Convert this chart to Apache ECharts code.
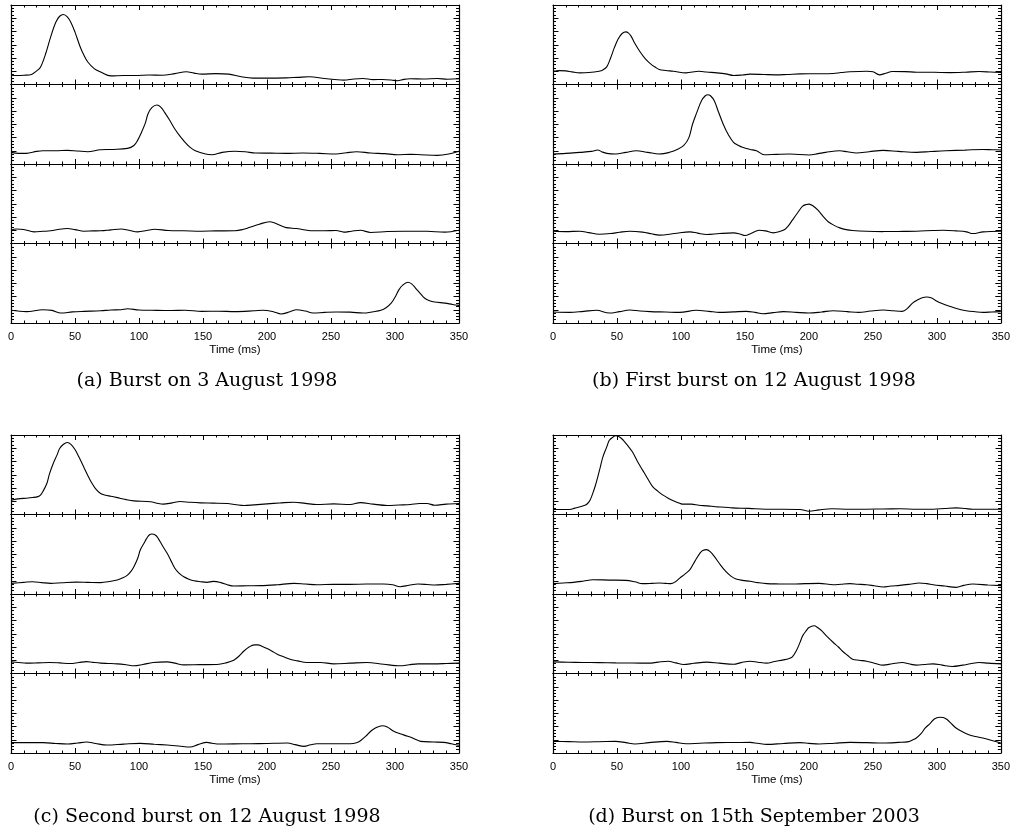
<!DOCTYPE html>
<html>
<head>
<meta charset="utf-8">
<script src="https://cdn.jsdelivr.net/npm/echarts@6/dist/echarts.min.js"></script>
<style>
html,body{margin:0;padding:0;background:#fff;}
#chart{width:1013px;height:831px;}
</style>
</head>
<body>
<div id="chart"></div>
<script>
// ---------- data (time in ms, intensity in arbitrary units, 0..60) ----------
const captions = [
  '(a) Burst on 3 August 1998',
  '(b) First burst on 12 August 1998',
  '(c) Second burst on 12 August 1998',
  '(d) Burst on 15th September 2003'
];
const xTickLabels = [0, 50, 100, 150, 200, 250, 300, 350];
const xName = 'Time (ms)';

const a1 = [[0,7.0],[5,6.8],[10,7.0],[16,7.6],[20,10.3],[23,13],[27,23],[31,36],[35,47],[38,51.5],[41,52.8],[44,51],[47,46.5],[50,39.5],[54,28.5],[57,22],[60,17],[65,12],[70,9.5],[78,6.5],[88,6.8],[97,6.8],[108,7.2],[118,7],[128,8.2],[137,9.6],[143,8.6],[149,7.8],[160,8.2],[170,7.8],[180,5.8],[189,4.8],[200,4.8],[215,5],[224,5.4],[233,5.8],[245,4.5],[253,3.8],[260,3.3],[268,4.2],[275,4.5],[283,3.7],[290,3.8],[297,3.4],[302,2.8],[307,3.9],[312,4.3],[322,4.2],[333,4.5],[341,4.0],[350,4.3]];
const a2 = [[0,8.8],[6,8],[12,8],[20,9.5],[25,10],[35,10],[44,10.3],[52,9.8],[60,9.3],[70,10.8],[80,11],[91,11.8],[96,14],[99,18],[102,24],[105,31],[107,37.7],[110,42.5],[114,44.5],[117,43],[120,39],[124,33],[128,26.4],[132,21],[136,16.4],[140,12.5],[144,10],[152,7.5],[157,7],[165,8.8],[175,9.6],[183,9.2],[191,8.3],[203,8.2],[215,8],[228,8.3],[241,8],[254,7.5],[262,8.5],[270,9.3],[281,8.3],[292,7.8],[302,7],[312,7.3],[320,7],[333,6.5],[342,7.5],[350,9.6]];
const a3 = [[0,10],[4,11],[10,10.6],[18,8.8],[25,9.2],[31,9.6],[38,10.8],[44,11.3],[50,10.5],[57,9.3],[64,9.5],[70,9.6],[78,10.3],[86,11],[92,10],[99,8.8],[106,9.8],[112,10.8],[123,9.8],[135,9.6],[149,9.3],[160,9.5],[175,9.6],[181,10.5],[186,12],[194,14.6],[202,16.4],[206,15.5],[210,13.8],[215,12],[223,11.3],[230,10.2],[236,9.6],[245,9.6],[254,9.8],[260,8.6],[266,9.3],[273,10],[281,8.3],[294,9],[307,9.3],[325,9.2],[339,8.6],[350,10]];
const a4 = [[0,9.6],[12,8.6],[25,10],[32,9.5],[39,7.5],[48,8.4],[57,8.8],[70,9.2],[78,9.8],[86,10],[91,10.8],[100,9.8],[110,9.6],[125,9.4],[136,9.6],[149,8.8],[162,8.9],[175,8.6],[190,9.2],[197,9.6],[205,8.5],[211,6.8],[218,8.5],[223,10],[230,9],[236,7.5],[245,8],[254,8.3],[265,8.2],[275,7.5],[283,8.5],[289,9.6],[293,11.5],[297,15],[300,19.5],[303,25],[306,28.6],[310,30.7],[313,29.5],[316,26.4],[320,22],[323,18.9],[327,16.8],[331,15.8],[339,15],[345,14],[350,13.3]];

const b1 = [[0,10],[5,10.5],[10,10.3],[15,9.5],[21,8.8],[28,9],[36,10],[39,11],[42,13.3],[45,20],[48,28],[51,34.5],[54,38.5],[57,39.7],[59,38.8],[61,36.5],[64,31],[68,24.7],[72,19.5],[76,15.8],[80,13],[83,11.3],[88,10.6],[94,10],[104,8.8],[114,10],[120,9.4],[128,8.8],[135,8],[141,6.8],[148,7.2],[154,7.8],[165,7.5],[174,7.3],[183,7.6],[193,8],[205,8.1],[219,8.3],[225,9],[232,9.6],[245,10],[250,9.6],[255,7.3],[260,8.5],[265,9.8],[275,9.7],[284,9.3],[298,9.2],[310,9],[322,9.3],[333,9.8],[342,9.4],[350,9]];
const b2 = [[0,7.5],[10,8],[21,8.8],[30,9.5],[35,10.6],[38,9.3],[42,8],[49,7.5],[57,8.8],[65,10],[74,8.8],[83,7.5],[91,8.8],[97,11],[102,13.8],[106,19.5],[109,30],[112,38],[116,47.8],[119,51.5],[121,52.3],[123,51.5],[126,47.8],[129,40],[133,30],[137,22],[141,16.4],[145,14],[148,12.6],[154,11],[159,10],[165,7],[175,7.3],[185,7.5],[200,6.8],[207,7.8],[213,8.8],[224,10],[230,9.2],[237,8.3],[247,9.3],[258,10.3],[270,9.5],[284,8.8],[295,9.4],[307,10],[322,10.5],[336,11],[343,10.8],[350,10.6]];
const b3 = [[0,9.3],[10,9],[21,9.3],[28,8.2],[36,7],[45,7.5],[52,8.5],[60,9.3],[70,8.6],[77,7.3],[83,6.3],[95,7.5],[107,8.8],[113,7.8],[120,6.8],[130,7.5],[141,8],[146,7.2],[150,6],[155,7.8],[161,10],[166,9.5],[172,8],[177,9],[181,10.6],[184,13.5],[187,17.6],[191,23],[195,28.2],[198,29.5],[200,29.7],[203,28.5],[207,25.2],[211,20.5],[215,16.4],[220,13.5],[224,11.8],[229,10.5],[234,9.8],[245,9.2],[258,9],[270,9.1],[284,9.3],[297,9.8],[305,10],[315,9.5],[323,8.8],[328,7.5],[336,8.8],[350,9.3]];
const b4 = [[0,8.3],[13,8],[24,8.8],[34,9.6],[44,7.5],[52,8.6],[60,9.8],[68,9],[76,8.6],[88,8.3],[99,8],[112,9.6],[122,8.8],[130,8],[141,8.4],[151,8.8],[158,8],[164,7],[172,7.8],[180,8.6],[190,8],[200,7.5],[210,8.3],[219,9.3],[230,8.6],[239,8],[248,9],[258,9.8],[266,9.2],[273,8.8],[277,11],[281,15],[285,17.5],[288,18.9],[292,19.6],[296,18.8],[299,17],[304,14.7],[310,12.6],[316,10.8],[323,9.3],[330,8.5],[336,8],[343,8.3],[350,8.6]];

const c1 = [[0,10.8],[7,12],[12,12.3],[17,12.8],[21,13.5],[23,14.6],[25,17.5],[28,23.4],[30,30.5],[33,38.5],[36,45],[38,49.8],[41,53],[44,54.3],[47,52.8],[50,49],[53,43.5],[57,35.5],[60,29.5],[63,24],[66,19.5],[70,15.8],[74,14.5],[78,13.8],[85,12.3],[90,11.2],[96,10.3],[109,9.6],[114,8.5],[119,7.8],[126,8.8],[132,9.8],[140,9.2],[148,8.8],[158,8.6],[169,8.3],[176,7.4],[182,6.8],[190,7.3],[200,8],[210,8.7],[221,9.3],[230,8.4],[239,7.5],[252,8],[265,7.5],[273,9],[283,7.8],[294,6.8],[303,7.2],[312,7.5],[319,8.3],[325,8.3],[331,7],[340,7.8],[350,8.3]];
const c2 = [[0,8],[10,8.8],[17,9.3],[24,8.6],[31,8],[40,8.5],[51,9],[60,8.8],[70,8.6],[77,9.4],[83,10.6],[87,12],[91,14.3],[94,17.5],[96,20.6],[99,27],[101,33.2],[104,38.5],[106,42],[108,44.5],[110,45.3],[113,44.3],[115,42],[118,37],[122,30.7],[125,25],[128,19.4],[131,16],[135,13],[139,11.2],[143,10],[148,9.3],[153,8.8],[158,9.5],[164,8.6],[169,7],[174,6],[185,6.2],[195,6.3],[208,7],[221,8],[230,7.5],[239,7],[252,7.3],[265,7.3],[278,7.5],[291,7.5],[298,7],[304,5.5],[311,6.6],[318,7.5],[325,7.2],[331,6.8],[340,7.3],[350,8]];
const c3 = [[0,8.8],[6,8.3],[12,7.8],[21,8],[30,8.3],[38,8],[46,7.5],[53,8.3],[59,9],[64,8.4],[70,7.8],[76,7.6],[83,7.3],[90,6.6],[96,5.8],[103,6.8],[111,8.3],[122,8.8],[128,7.8],[135,6.5],[148,6.7],[161,6.8],[168,8],[174,10],[178,13],[182,17],[186,20],[190,21.6],[193,21.6],[196,20.6],[200,18.9],[204,16.8],[208,14.6],[213,12.6],[218,10.8],[224,9.5],[231,8.3],[242,8.3],[252,7.3],[265,7.8],[278,8.3],[291,7],[304,5.8],[311,6.6],[318,7.3],[330,7.3],[340,7.5],[350,7.8]];
const c4 = [[0,7.8],[12,7.8],[25,7.8],[35,7.2],[44,6.8],[52,7.5],[59,8.3],[66,7.2],[75,6],[88,6.7],[101,7.3],[112,6.6],[122,6],[131,5.3],[140,4.5],[146,6.3],[153,8],[157,7.3],[161,6.8],[174,6.9],[187,7],[200,7.2],[216,7.5],[222,6.3],[229,5],[234,6.2],[239,7],[252,7],[265,7],[270,7.8],[273,9.3],[277,12.5],[281,16.4],[285,19],[290,20.6],[294,19.6],[299,16.4],[304,14.5],[310,12.6],[315,10.8],[320,8.8],[330,8.3],[338,8],[344,7],[350,5.8]];

const d1 = [[0,3.8],[7,3.8],[13,3.8],[17,4.8],[21,5.8],[25,7],[27,8.3],[29,11],[31,15.8],[33,21.5],[35,28.4],[37,36],[39,43.5],[42,51],[44,56],[47,58.5],[49,59.4],[52,58.5],[55,56],[58,52.5],[62,47.3],[66,40],[70,33.5],[74,27],[78,20.9],[82,17.5],[86,14.6],[90,12.3],[94,10.3],[98,8.8],[101,7.8],[108,7.8],[114,7],[121,6.5],[127,5.8],[134,5.5],[140,5],[153,4.6],[166,4],[180,4],[193,3.8],[200,2.5],[208,3.5],[218,4.3],[231,4],[245,4],[258,4.2],[271,4.3],[284,4],[297,4],[306,4.5],[315,5],[322,4.5],[328,4],[340,4],[350,4]];
const d2 = [[0,7.8],[8,8.3],[16,8.8],[24,9.8],[31,10.8],[44,10.5],[57,10.3],[64,9.2],[70,7.8],[77,8],[83,8.3],[88,8],[92,7.8],[96,9.5],[99,12],[103,15],[107,18.4],[111,25],[115,31],[117,32.8],[120,33.5],[123,31.8],[126,28.4],[130,23],[135,17],[139,13.5],[143,11.3],[148,10.3],[154,9.6],[160,8.6],[167,7.8],[177,7.6],[187,7.5],[197,7.8],[208,8],[219,7],[225,7.4],[232,7.8],[238,7.4],[245,7],[251,6.2],[258,5.3],[264,6],[271,6.5],[279,7.4],[286,8.3],[292,7.8],[297,7],[306,6],[315,5],[321,6.5],[328,7.5],[340,6.8],[350,6.3]];
const d3 = [[0,8.8],[12,8.5],[23,8.3],[36,8.2],[49,8],[62,7.9],[75,7.8],[82,8.6],[90,9.3],[96,8],[102,6.8],[110,7.7],[120,8.6],[130,7.8],[141,7],[147,8.2],[154,9.3],[160,8.5],[167,7.8],[173,9],[180,10.3],[184,11.2],[187,12.6],[190,17],[193,23.5],[195,28.4],[198,32.5],[200,34.7],[204,36],[207,34.5],[210,32.2],[214,28],[219,23.4],[223,20],[226,17],[230,13.8],[234,10.8],[239,10],[245,9.3],[251,7.8],[258,6.3],[265,7.3],[273,8.3],[278,7.3],[284,6.3],[290,6.8],[297,7.3],[304,6.3],[312,5.3],[320,6.3],[326,7.3],[333,8.3],[340,7.8],[350,7.3]];
const d4 = [[0,8.8],[12,8.6],[23,8.3],[36,8.5],[49,8.8],[57,7.8],[64,6.8],[75,7.8],[89,8.8],[96,8],[104,7],[115,7.4],[128,7.8],[140,7.9],[154,8],[160,7.3],[167,6.5],[180,7.2],[193,7.8],[200,7.3],[208,6.8],[220,7.4],[232,8],[245,7.8],[258,7.5],[270,8],[278,8.6],[281,9.8],[284,11.3],[288,15],[291,18.9],[295,22.5],[298,25.7],[302,27],[305,26.8],[308,25.3],[311,22.5],[315,18.9],[320,16],[325,13.8],[330,12.5],[336,11.3],[343,9.5],[350,7.5]];

const panelTraces = [[a1,a2,a3,a4],[b1,b2,b3,b4],[c1,c2,c3,c4],[d1,d2,d3,d4]];

// ---------- layout ----------
const panelLeft = [11, 553, 11, 553];
const panelWidth = 448;
const panelTop = [5, 5, 435, 435];
const subH = 79.5;
const captionX = [207, 754, 207, 754];
const captionY = [381, 381, 817, 817];

const AX = '#000';
const grids = [], xAxes = [], yAxes = [], series = [];
panelTraces.forEach((traces, p) => {
  traces.forEach((data, r) => {
    const gi = grids.length;
    grids.push({left: panelLeft[p], top: panelTop[p] + r * subH, width: panelWidth, height: subH, containLabel: false});
    const isBottom = r === 3;
    const xBase = {
      gridIndex: gi, type: 'value', min: 0, max: 350, interval: 50,
      axisLine: {show: true, onZero: false, lineStyle: {color: AX, width: 1.2}},
      axisTick: {show: true, inside: true, length: 5, lineStyle: {color: AX, width: 1}},
      minorTick: {show: true, splitNumber: 5, length: 2.5, lineStyle: {color: AX, width: 1}},
      splitLine: {show: false}, minorSplitLine: {show: false}
    };
    const xi = xAxes.length;
    xAxes.push(Object.assign({}, xBase, {
      position: 'bottom',
      axisLabel: {show: isBottom, color: '#000', fontFamily: 'Liberation Sans', fontSize: 11, margin: 8,
        formatter: v => xTickLabels.indexOf(v) >= 0 ? String(v) : ''},
      name: isBottom ? xName : '', nameLocation: 'middle', nameGap: 21,
      nameTextStyle: {color: '#000', fontFamily: 'Liberation Sans', fontSize: 11.5}
    }));
    xAxes.push(Object.assign({}, xBase, {position: 'top', axisLabel: {show: false}}));
    const yBase = {
      gridIndex: gi, type: 'value', min: 0, max: 60, interval: 10,
      axisLine: {show: true, onZero: false, lineStyle: {color: AX, width: 1.2}},
      axisTick: {show: true, inside: true, length: 5.5, lineStyle: {color: AX, width: 1}},
      minorTick: {show: true, splitNumber: 4, length: 3, lineStyle: {color: AX, width: 1}},
      axisLabel: {show: false}, splitLine: {show: false}, minorSplitLine: {show: false}
    };
    const yi = yAxes.length;
    yAxes.push(Object.assign({}, yBase, {position: 'left'}));
    yAxes.push(Object.assign({}, yBase, {position: 'right'}));
    series.push({
      type: 'line', xAxisIndex: xi, yAxisIndex: yi, data: data,
      showSymbol: false, smooth: 0.35, lineStyle: {color: '#000', width: 1.1}, clip: true
    });
  });
});

const graphics = captions.map((t, p) => ({
  type: 'text', x: captionX[p], y: captionY[p],
  style: {text: t, x: 0, y: 0, textAlign: 'center', textVerticalAlign: 'middle',
    font: '19px "DejaVu Serif"', fill: '#000'}
}));

const chart = echarts.init(document.getElementById('chart'), null, {renderer: 'canvas'});
chart.setOption({
  animation: false,
  backgroundColor: '#fff',
  grid: grids, xAxis: xAxes, yAxis: yAxes, series: series,
  graphic: graphics
});
</script>
</body>
</html>
